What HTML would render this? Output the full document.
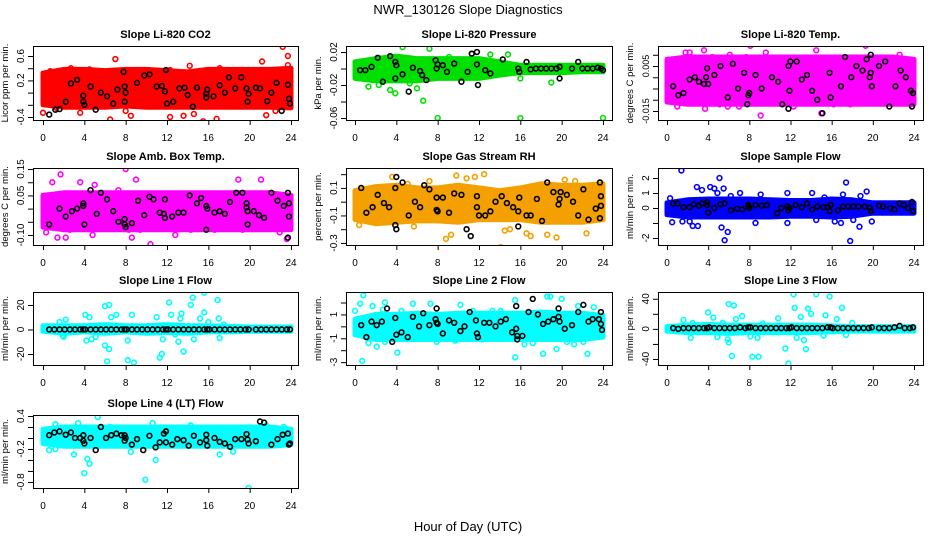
<!DOCTYPE html>
<html><head><meta charset="utf-8"><style>
html,body{margin:0;padding:0;background:#fff;}
svg{display:block;font-family:"Liberation Sans",sans-serif;}
</style></head><body>
<svg id="fig" width="936" height="540" viewBox="0 0 936 540">
<text x="468" y="14" text-anchor="middle" font-size="13">NWR_130126  Slope Diagnostics</text>
<text x="468" y="531" text-anchor="middle" font-size="13">Hour of Day (UTC)</text>
</svg>
<script>
// shared
const xTicks=[0,4,8,12,16,20,24];
const bandHours=[0,2,4,6,8,10,12,14,16,18,20,22,24];
const flatHours=[0.6,1.1,1.6,2.1,2.6,3.1,3.6,3.9,4.1,4.6,5.1,5.6,6.1,6.6,7.1,7.6,7.9,8.1,8.6,9.1,9.6,10.1,10.6,11.1,11.6,11.9,12.1,12.6,13.1,13.6,14.1,14.6,15.1,15.6,15.9,16.1,16.6,17.1,17.6,18.1,18.6,19.1,19.6,19.9,20.6,21.1,21.6,22.1,22.6,23.1,23.6,23.9];

// CO2
const co2Lo=[-0.2,-0.24,-0.24,-0.24,-0.22,-0.24,-0.24,-0.24,-0.24,-0.24,-0.24,-0.24,-0.25];
const co2Hi=[0.32,0.38,0.38,0.36,0.38,0.38,0.36,0.34,0.38,0.38,0.38,0.38,0.4];
const co2Out=[[0,-0.33],[0.7,0.35],[1.5,0.35],[2.7,0.4],[3.6,-0.33],[4.5,0.38],[6.5,-0.44],[7,0.55],[8,-0.3],[8.5,-0.38],[9.3,0.35],[10.5,0.35],[12.3,0.37],[12.3,-0.4],[13.6,-0.38],[14.2,0.44],[14.6,-0.35],[15.5,-0.47],[16.8,-0.43],[17.1,0.4],[21.2,0.51],[21.6,-0.37],[23.2,0.75],[23.7,0.6],[23.7,0.45],[22.5,-0.3],[1.3,-0.25]];
const co2Blk=[[0.6,-0.36],[1.2,-0.28],[1.6,-0.27],[2.2,-0.15],[2.7,0.15],[3.3,0.21],[3.9,-0.05],[4,-0.2],[3.9,-0.15],[4.6,0.1],[5.1,-0.28],[5.6,0],[6.2,-0.06],[6.8,-0.18],[7.2,0.05],[7.8,0.34],[7.9,-0.15],[7.9,0.1],[8,0],[9.1,0.16],[9.8,0.28],[10.3,0.3],[11,0.1],[11.5,0.11],[11.9,0.37],[11.8,0.02],[12,-0.18],[12.6,-0.15],[13.2,0.07],[13.7,0.08],[14,-0.04],[14.5,-0.23],[14.9,0.08],[15.8,-0.02],[15.8,-0.08],[15.9,0.05],[16.5,-0.06],[17.1,0.12],[17.6,0],[18,0.25],[18.6,0.07],[19.2,0.25],[19.7,0.07],[19.8,-0.15],[19.9,-0.02],[20.6,0.08],[21,0.07],[21.7,-0.14],[22.1,0],[22.6,0.16],[23.1,-0.3],[23.7,0.13],[23.8,-0.1],[23.9,-0.18]];

// Pressure
const prLo=[-0.012,-0.015,-0.015,-0.015,-0.012,-0.012,-0.012,-0.008,-0.005,-0.005,-0.005,-0.004,-0.004];
const prHi=[0.008,0.012,0.015,0.012,0.012,0.012,0.012,0.008,0.004,0.004,0.004,0.004,0.004];
const prOut=[[1.3,-0.022],[3.4,-0.026],[3.9,-0.03],[4.6,0.026],[5.3,-0.018],[6,-0.024],[6.6,-0.039],[7.2,0.024],[8,-0.06],[9.1,0.014],[11.3,0.018],[13.1,0.017],[14.8,0.017],[16,-0.06],[16,-0.012],[19,-0.017],[24,-0.06],[2.3,-0.02]];
const prBlk=[[0.5,-0.002],[1,-0.002],[1.6,0.002],[2.2,0.013],[2.7,-0.016],[3.4,0.015],[3.9,0.008],[3.9,-0.012],[4,0.004],[4.6,-0.007],[5.2,-0.028],[5.6,0.001],[6.3,-0.003],[6.5,-0.008],[6.9,-0.014],[7.8,0.01],[7.9,0],[8,0.005],[8.5,0.004],[8.9,-0.004],[9.6,0.006],[10.3,-0.016],[10.9,-0.004],[11.3,0.018],[11.8,0.02],[11.8,0.005],[11.9,-0.02],[12.6,-0.002],[13.1,-0.006],[14.3,0.011],[15.8,0],[15.9,-0.004],[16.6,0.008],[17,-0.001],[17.5,0],[18,0],[18.5,0],[19,0],[19.5,0],[19.8,-0.012],[19.8,0.002],[21,0],[21.6,0.008],[22,0],[22.5,0],[23,0],[23.5,0.001],[23.8,0],[24,-0.002]];

// Li-820 Temp
const tLo=[-0.011,-0.012,-0.012,-0.012,-0.012,-0.012,-0.012,-0.012,-0.012,-0.012,-0.012,-0.012,-0.012];
const tHi=[0.008,0.009,0.009,0.009,0.009,0.009,0.009,0.009,0.009,0.009,0.009,0.009,0.008];
const tOut=[[0.5,-0.01],[1,-0.013],[1.3,-0.011],[1.8,0.011],[2.2,0.011],[3.6,0.012],[3.7,-0.014],[4.4,0.009],[5.1,-0.012],[5.9,-0.013],[6.1,0.01],[7,-0.013],[7.7,0.009],[8.1,0.014],[9.1,-0.017],[9.6,0.011],[12.3,-0.013],[14.5,0.012],[15,-0.016],[16.2,-0.012],[17.8,-0.012],[19.3,0.014],[20,-0.009],[22.6,0.01],[23.7,-0.012]];
const tBlk=[[0.6,-0.004],[1.1,-0.008],[1.6,-0.007],[2.2,-0.001],[2.7,0],[3.1,-0.002],[3.6,-0.003],[3.9,0.004],[4,-0.003],[3.8,0],[4.6,0.001],[5.2,0.005],[5.9,-0.009],[6.4,0.006],[6.9,-0.005],[7.5,0.002],[7.8,-0.012],[7.9,-0.008],[8,-0.007],[8.6,0.001],[9.2,-0.005],[9.6,-0.027],[10.2,0],[10.8,-0.002],[11.2,-0.012],[11.8,-0.014],[11.9,-0.006],[11.8,0.005],[12,0.007],[12.6,0.007],[13.1,-0.001],[13.6,0.001],[14.1,-0.006],[14.6,-0.01],[15.1,-0.016],[15.8,0.002],[15.9,-0.009],[16.9,-0.004],[17.3,0.009],[17.9,0],[18.4,0.005],[19,0.003],[19.4,0.008],[19.7,0],[19.8,0.002],[19.9,-0.004],[19.8,0.01],[20.6,0.005],[21.2,0.007],[21.6,-0.013],[22.2,-0.004],[22.7,0.003],[23.2,0],[23.7,-0.006],[23.9,-0.007],[23.8,-0.013]];

// Amb Box Temp
const abLo=[-0.07,-0.08,-0.08,-0.08,-0.08,-0.08,-0.08,-0.08,-0.08,-0.08,-0.08,-0.08,-0.08];
const abHi=[0.05,0.06,0.06,0.06,0.06,0.06,0.06,0.06,0.06,0.06,0.06,0.06,0.05];
const abOut=[[0.1,-0.06],[0.3,-0.09],[0.9,0.1],[1.4,-0.11],[1.7,0.13],[2.2,-0.11],[2.6,-0.08],[3.6,0.1],[4.8,-0.1],[5,0.09],[7.3,0.07],[8,0.15],[8.3,-0.08],[8.6,-0.11],[9,0.11],[9.4,-0.08],[10.4,-0.135],[12.8,-0.1],[14.3,-0.08],[16.6,-0.08],[18.9,0.11],[19.3,-0.08],[21.1,0.11],[22.9,-0.09],[23.6,-0.115]];
const abBlk=[[0.6,-0.06],[1.6,0],[2.2,-0.03],[2.8,-0.01],[3.3,0],[3.9,0.02],[3.9,0.01],[4,-0.06],[4.6,0.07],[5.2,-0.02],[5.6,0.06],[6.2,0.035],[6.8,-0.01],[7.3,-0.05],[7.9,-0.04],[7.9,-0.06],[8,-0.07],[8.6,-0.055],[9.2,0.03],[9.8,-0.025],[10.3,0.045],[10.7,0.035],[11.3,-0.015],[11.8,0.035],[11.7,-0.02],[11.8,-0.035],[12.5,-0.03],[13.1,-0.015],[13.6,-0.015],[14.2,0.05],[14.9,0.02],[15.3,0.04],[15.8,0.01],[15.9,0],[15.8,-0.08],[16.6,-0.015],[17.1,-0.01],[17.6,-0.02],[18.1,0.025],[18.7,0.06],[19.3,0.06],[19.7,0.005],[19.8,-0.01],[19.8,-0.06],[19.7,0.02],[20.4,-0.01],[20.9,-0.025],[21.4,-0.035],[22.1,0.06],[22.7,0.03],[23.3,0.01],[23.7,0.06],[23.8,0.02],[23.8,-0.03],[23.7,-0.11]];

// Gas RH
const rhLo=[-0.13,-0.16,-0.15,-0.14,-0.14,-0.15,-0.13,-0.13,-0.13,-0.15,-0.15,-0.15,-0.13];
const rhHi=[0.08,0.11,0.12,0.1,0.1,0.12,0.1,0.08,0.1,0.13,0.12,0.12,0.13];
const rhOut=[[0.4,-0.17],[2.2,-0.15],[3.6,0.18],[5.1,0.13],[5.7,-0.18],[7.2,0.15],[8.8,-0.27],[9.3,-0.24],[9.8,0.19],[10.8,0.17],[11.6,0.18],[12.5,0.2],[14.1,-0.33],[14.5,-0.21],[15,-0.2],[16.6,-0.23],[17,-0.25],[18.6,-0.24],[19.5,-0.26],[20.3,0.16],[21.3,0.15],[22.4,-0.23]];
const rhBlk=[[0.6,0.1],[1.1,-0.08],[1.7,-0.04],[2.2,0.05],[2.8,-0.01],[3.3,-0.04],[3.9,0.1],[3.9,-0.17],[4,-0.2],[4,0.18],[4.6,0.14],[5.2,-0.1],[5.8,0],[6.3,-0.04],[6.7,0.12],[7.2,0.09],[7.9,0.03],[7.9,-0.06],[8,-0.07],[8.5,0.03],[9.1,-0.08],[9.6,0.06],[10.3,0.05],[10.8,-0.2],[11.2,-0.25],[11.8,0.04],[11.8,-0.04],[12,-0.1],[12.6,-0.1],[13.1,-0.07],[13.6,0],[14.2,0.04],[14.7,-0.01],[15.3,-0.04],[15.8,-0.07],[15.9,0.03],[15.8,-0.18],[16.6,-0.1],[17,-0.1],[17.6,0.02],[18.1,-0.14],[18.6,0.14],[19.2,0.07],[19.7,-0.02],[19.8,0.02],[19.9,0.07],[20.5,0.05],[21.1,0],[21.6,-0.1],[22.1,0.09],[22.6,-0.13],[23.3,-0.05],[23.7,0.14],[23.8,0.04],[23.8,-0.03],[23.7,-0.12]];

// Sample Flow
const sfLo=[-0.45,-0.6,-0.6,-0.6,-0.6,-0.6,-0.55,-0.55,-0.6,-0.55,-0.35,-0.35,-0.35];
const sfHi=[0.35,0.55,0.6,0.6,0.6,0.55,0.5,0.5,0.6,0.55,0.35,0.35,0.35];
const sfOut=[[0.3,0.65],[0.5,-0.95],[1.4,2.5],[1.5,-0.9],[2.2,-0.9],[2.5,-1.2],[2.9,1.4],[3,-1.2],[3.4,1.2],[4.2,1.4],[4.6,1.3],[4.9,1],[5.1,2],[5.3,-1.3],[5.5,1.3],[5.6,-2.15],[5.9,-1.6],[6.2,0.8],[7.1,1],[8.6,-1],[9.1,0.9],[11.7,1],[11.7,-1],[14.1,1],[14.5,-0.8],[15.3,0.7],[16.3,-0.9],[16.9,-1],[17.4,1.7],[17.1,0.9],[17.8,-2.2],[18.1,-0.8],[18.7,-1.25],[19.4,1.1],[19.9,-0.9],[18.8,0.8]];
const sfBlk=[[0.6,0.3],[1,0.3],[1.6,0.05],[2.2,0.05],[2.6,0.25],[3.1,0.15],[3.4,0.3],[3.9,0.2],[3.9,0.4],[4,-0.3],[4.6,0],[5.2,0.25],[5.6,0.3],[6.2,-0.15],[6.8,-0.05],[7.3,-0.1],[7.9,0.1],[7.9,0.2],[8,0],[8.6,0.2],[9.2,0.15],[9.7,0.2],[10.7,-0.35],[11.1,0],[11.7,0.1],[11.8,-0.15],[11.9,0],[12.5,0.2],[13.1,0.05],[13.6,0.3],[14.1,-0.1],[14.6,0.1],[15.2,0.05],[15.6,0.05],[15.8,-0.2],[15.9,0.2],[16.6,-0.15],[17.1,0.1],[17.6,0.1],[18.1,0.1],[18.6,0.1],[19.2,0.1],[19.7,0],[19.8,-0.2],[20.6,0.15],[21,0.1],[21.7,0],[22.1,-0.1],[22.6,0.3],[23,0.2],[23.4,0],[23.8,0.4],[23.9,-0.2]];

// Line 1 Flow
const l1Lo=[-1.5,-3,-2,-3,-2,-3,-2.5,-3,-2,-2,-1.5,-1.5,-1.5];
const l1Hi=[3,3,3,4,3,3,4,3,3,2.5,2,2,2];
const l1Out=[[1.6,6],[1.9,-5],[2.2,8],[2,-6],[4.1,12],[4.2,-9],[4.5,10],[4.7,-8],[5.1,-6],[6,19],[6.4,20],[6,-13],[6.2,-26],[6.4,-16],[6.6,10],[7.1,12],[8.2,-9],[8.2,-25],[8.6,12],[8.8,-27],[11,10],[11.3,-23],[11.5,-20],[11.6,-8],[12.2,22],[12.4,12],[12.8,-4],[13.3,9],[13.1,-10],[13.4,13],[13.6,-18],[14.3,20],[14.5,26],[14.6,-8],[15.2,9],[15.6,30],[15.6,14],[16,6],[16.9,24],[17,9],[17.1,-7],[17.5,4]];
const l1Blk=[0,0,0,0,0,0,0,0,0,0,0,0,0,0,0,0,0,0,0,0,0,0,0,0,0,0,0,0,0,0,0,0,0,0,0,0,0,0,0,0,0,0,0,0,0,0,0,0,0,0,0,0];

// Line 2 Flow
const l2Lo=[-0.7,-1.1,-1.1,-1.1,-1.1,-1.1,-1.1,-1.1,-1.1,-1.1,-1.1,-1.1,-0.9];
const l2Hi=[0.6,1,1,1.1,1,1.1,1.1,1.1,1.1,1.2,1.1,1.1,0.9];
const l2Out=[[0,1.3],[0.2,-0.5],[0.5,1.9],[0.7,-2.9],[0.8,2.6],[1.3,-1.4],[1.7,1.7],[2.1,-1.7],[2.7,1.4],[2.9,2],[2.9,-1.3],[4.1,-2.2],[4.5,1.3],[5.6,1.9],[6.7,-0.8],[7.3,1.9],[7.9,-1.3],[9.7,-1.2],[10.2,1.8],[11.4,1.3],[12.3,-1.1],[13.3,1.3],[14.1,1.3],[15.5,2.2],[15.5,-2.6],[16.4,-1.5],[17.2,-1.4],[18.2,-2.3],[18.6,2.5],[18.9,2.5],[19.5,-1.9],[20,2.3],[20.5,-1.3],[21.2,-1.5],[21.6,1.7],[22.5,-2.3],[22.1,-1.3],[23.1,1.6],[23.7,-0.8]];
const l2Blk=[[0.6,0.1],[1.1,-0.9],[1.6,0.4],[2.1,0.1],[2.6,0.4],[3.1,1.5],[3.6,-1.3],[3.9,0.7],[4,-0.7],[4.5,-0.5],[5.1,-0.9],[5.6,0.8],[6.2,0],[6.6,1.1],[7.2,0.1],[7.8,0.6],[7.9,1.5],[7.9,0.3],[8,0.2],[8.5,-0.6],[9.1,0.5],[9.6,0.3],[10.2,-0.4],[10.6,0],[11.1,1.2],[11.7,0.5],[11.8,-0.6],[11.9,-0.9],[12.5,0.3],[13,0.3],[13.6,0],[14.1,0.4],[14.6,0.6],[15.2,-0.5],[15.6,1.7],[15.6,-0.2],[15.7,-0.8],[15.7,-1.1],[16.2,-0.8],[16.8,1.2],[17.2,2.3],[17.7,1],[18.2,0.2],[18.7,0.4],[19.2,0.6],[19.7,1.5],[19.7,0.8],[19.8,0.4],[20.3,-0.2],[21,0.1],[21.6,1.2],[22.1,1.8],[22.6,0.4],[23,0.6],[23.6,0.6],[23.8,1.2],[23.8,0.2],[23.9,-0.3]];

// Line 3 Flow
const l3Lo=[-3,-5,-5,-6,-5,-5,-5,-5,-4,-3,-3,-3,-3];
const l3Hi=[3,5,6,5,5,5,5,5,4,3,3,3,3];
const l3Out=[[1.6,12],[2.3,-12],[2.5,8],[4,22],[4.5,15],[4.9,-11],[5.4,8],[5.9,-14],[6,-18],[6,33],[6.3,-36],[6.5,31],[6.7,13],[7.3,17],[8.1,-10],[8.3,-37],[8.9,-37],[8.8,-12],[9.3,7],[10.8,14],[11.5,-26],[11.8,-46],[12.3,46],[12.4,28],[12.6,-12],[13,16],[13.3,-15],[13.5,-27],[13.7,27],[14,20],[14.5,46],[15.2,-9],[15.4,18],[15.8,43],[16.5,13],[17,28],[17.4,-8],[18,8]];
const l3Blk=[1,0,1,1,1,1,1,1,2,1,1,1,1,1,2,1,2,2,1,1,1,1,1,1,1,1,2,1,1,1,1,1,1,2,2,1,1,1,1,1,1,1,1,2,1,1,1,2,4,1,1,2];

// Line 4 (LT) Flow
const l4Lo=[-0.1,-0.15,-0.15,-0.15,-0.15,-0.15,-0.15,-0.15,-0.15,-0.15,-0.15,-0.15,-0.12];
const l4Hi=[0.16,0.2,0.2,0.2,0.2,0.2,0.2,0.2,0.2,0.2,0.2,0.2,0.16];
const l4Out=[[0.6,-0.22],[1.2,-0.2],[3.4,0.27],[4,-0.64],[4.3,-0.38],[4.5,-0.47],[5.3,0.38],[6.5,0.2],[8.5,-0.25],[9.9,-0.76],[10.6,0.27],[10.9,-0.4],[14.3,0.23],[17.1,-0.3],[18.4,-0.25],[19.9,-0.91],[21.6,0.23],[23.3,0.2],[3,-0.3],[1.2,0.25]];
const l4Blk=[[0.6,0.05],[1.1,0.1],[1.6,0.12],[2.2,0.06],[2.7,0.1],[3.1,0],[3.6,0],[3.9,0.05],[3.9,-0.05],[4,-0.1],[4.6,0],[5.1,-0.22],[5.6,0.2],[6.1,0],[6.6,0.05],[7.1,0.08],[7.6,0.05],[7.9,0.05],[7.9,-0.05],[8,0],[8.6,-0.12],[9.1,-0.02],[9.7,-0.22],[10.3,0.04],[10.9,-0.17],[11.3,-0.08],[11.7,0.08],[11.9,0.12],[11.9,-0.08],[12.5,-0.12],[13,-0.02],[13.6,-0.04],[14.1,-0.14],[14.6,0.04],[15.2,-0.08],[15.8,0.06],[15.8,-0.04],[15.9,-0.14],[16.6,0],[17.1,-0.07],[17.6,-0.1],[18.1,-0.16],[18.6,-0.02],[19.2,-0.02],[19.7,0.07],[19.8,-0.03],[19.9,-0.1],[20.6,-0.06],[21,0.3],[21.4,0.28],[22.1,-0.12],[22.7,-0.02],[23.2,0.06],[23.7,0.08],[23.8,-0.12],[23.9,-0.1]];

function zip(h,v){return h.map((x,i)=>[x,v[i]]);}

const NS='http://www.w3.org/2000/svg';
const svg=document.getElementById('fig');
function mk(tag,attrs,parent){const e=document.createElementNS(NS,tag);for(const k in attrs)e.setAttribute(k,attrs[k]);(parent||svg).appendChild(e);return e;}

const colBox=[[33,298,43,291],[346,612,355,603],[658,923,667,914]];
const rowBox=[[46,120],[168,245],[292,365],[415,488]];

const panels=[
 {id:'co2',title:'Slope Li-820 CO2',ylab:'Licor ppm per min.',c:0,r:0,yl:[0.764,-0.449],ticks:[-0.4,-0.2,0,0.2,0.4,0.6],labs:['-0.4','','','0.2','','0.6'],col:'#ff0000',lo:co2Lo,hi:co2Hi,out:co2Out,blk:co2Blk,fs:10},
 {id:'pressure',title:'Slope Li-820 Pressure',ylab:'kPa per min.',c:1,r:0,yl:[0.0273,-0.0624],ticks:[-0.06,-0.04,-0.02,0,0.02],labs:['-0.06','','-0.02','','0.02'],col:'#00e000',lo:prLo,hi:prHi,out:prOut,blk:prBlk,fs:10},
 {id:'li820-temp',title:'Slope Li-820 Temp.',ylab:'degrees C per min.',c:2,r:0,yl:[0.0139,-0.019],ticks:[-0.015,-0.01,-0.005,0,0.005,0.01],labs:['-0.015','','','','0.005',''],col:'#ff00ff',lo:tLo,hi:tHi,out:tOut,blk:tBlk,fs:9},
 {id:'amb-box-temp',title:'Slope Amb. Box Temp.',ylab:'degrees C per min.',c:0,r:1,yl:[0.154,-0.138],ticks:[-0.1,-0.05,0,0.05,0.1,0.15],labs:['-0.10','','','0.05','','0.15'],col:'#ff00ff',lo:abLo,hi:abHi,out:abOut,blk:abBlk,fs:10},
 {id:'gas-stream-rh',title:'Slope Gas Stream RH',ylab:'percent per min.',c:1,r:1,yl:[0.245,-0.315],ticks:[-0.3,-0.2,-0.1,0,0.1,0.2],labs:['-0.3','','-0.1','','0.1',''],col:'#f4a000',lo:rhLo,hi:rhHi,out:rhOut,blk:rhBlk,fs:10},
 {id:'sample-flow',title:'Slope Sample Flow',ylab:'ml/min per min.',c:2,r:1,yl:[2.67,-2.47],ticks:[-2,-1,0,1,2],labs:['-2','','0','1','2'],col:'#0000ff',lo:sfLo,hi:sfHi,out:sfOut,blk:sfBlk,fs:10},
 {id:'line1-flow',title:'Slope Line 1 Flow',ylab:'ml/min per min.',c:0,r:2,yl:[30.6,-29],ticks:[-20,0,20],labs:['-20','0','20'],col:'#00ffff',lo:l1Lo,hi:l1Hi,out:l1Out,blk:zip(flatHours,l1Blk),fs:10},
 {id:'line2-flow',title:'Slope Line 2 Flow',ylab:'ml/min per min.',c:1,r:2,yl:[2.88,-3.24],ticks:[-3,-2,-1,0,1,2],labs:['-3','','-1','','1',''],col:'#00ffff',lo:l2Lo,hi:l2Hi,out:l2Out,blk:l2Blk,fs:10},
 {id:'line3-flow',title:'Slope Line 3 Flow',ylab:'ml/min per min.',c:2,r:2,yl:[49,-48],ticks:[-40,-20,0,20,40],labs:['-40','','0','','40'],col:'#00ffff',lo:l3Lo,hi:l3Hi,out:l3Out,blk:zip(flatHours,l3Blk),fs:10},
 {id:'line4-flow',title:'Slope Line 4 (LT) Flow',ylab:'ml/min per min.',c:0,r:3,yl:[0.418,-0.91],ticks:[-0.8,-0.6,-0.4,-0.2,0,0.2,0.4],labs:['-0.8','','','-0.2','','','0.4'],col:'#00ffff',lo:l4Lo,hi:l4Hi,out:l4Out,blk:l4Blk,fs:10}
];

panels.forEach(p=>{
 const [bx0,bx1,x0,x24]=colBox[p.c];const [by0,by1]=rowBox[p.r];
 const X=h=>x0+(x24-x0)*h/24;
 const Y=v=>by0+(by1-by0)*(p.yl[0]-v)/(p.yl[0]-p.yl[1]);
 const g=mk('g',{});
 
 
 const t=mk('text',{x:(bx0+bx1)/2,y:by0-8,'text-anchor':'middle','font-size':'11','font-weight':'bold'},g);
 t.textContent=p.title;
 
 
 const cy=(by0+by1)/2, yx=bx0-25;
 const yt=mk('text',{x:yx,y:cy,'text-anchor':'middle','font-size':'9.5',transform:`rotate(-90 ${yx} ${cy})`},g);
 yt.textContent=p.ylab;
 
 
 const cl=mk('clipPath',{id:'clip-'+p.id},g);
 mk('rect',{x:bx0,y:by0,width:bx1-bx0,height:by1-by0},cl);
 const pg=mk('g',{'clip-path':`url(#clip-${p.id})`},g);
 let d='';
 bandHours.forEach((h,i)=>{d+=(i?'L':'M')+X(h).toFixed(1)+','+Y(p.hi[i]).toFixed(1);});
 for(let i=bandHours.length-1;i>=0;i--)d+='L'+X(bandHours[i]).toFixed(1)+','+Y(p.lo[i]).toFixed(1);
 const band=mk('path',{d:d+'Z',fill:p.col,stroke:p.col,'stroke-width':'5','stroke-linejoin':'round'},pg);
 
 
 p.out.forEach(([h,v])=>{
  const c=mk('circle',{cx:X(h),cy:Y(v),r:2.4,fill:'none',stroke:p.col,'stroke-width':'1.6'},pg);
  
  
 });
 p.blk.forEach(([h,v])=>{
  const c=mk('circle',{cx:X(h),cy:Y(v),r:2.4,fill:'none',stroke:'#000','stroke-width':'1.6'},pg);
  
  
 });
 const box=mk('rect',{x:bx0+0.5,y:by0+0.5,width:bx1-bx0,height:by1-by0,fill:'none',stroke:'#000','stroke-width':'1'},g);
 
 
 mk('line',{x1:X(0),x2:X(24),y1:by1+0.5,y2:by1+0.5,stroke:'#000'},g);
 xTicks.forEach(h=>{
  mk('line',{x1:X(h)+0.5,x2:X(h)+0.5,y1:by1,y2:by1+5,stroke:'#000'},g);
  const l=mk('text',{x:X(h),y:by1+21,'text-anchor':'middle','font-size':'10'},g);
  l.textContent=h;
  
  
 });
 const ty=p.ticks.map(Y);
 mk('line',{x1:bx0+0.5,x2:bx0+0.5,y1:Math.min(...ty),y2:Math.max(...ty),stroke:'#000'},g);
 p.ticks.forEach((v,i)=>{
  const y=Y(v);
  mk('line',{x1:bx0-5,x2:bx0,y1:y+0.5,y2:y+0.5,stroke:'#000'},g);
  if(p.labs[i]){
   const lx=bx0-9;
   const l=mk('text',{x:lx,y:y,'text-anchor':'middle','font-size':p.fs,transform:`rotate(-90 ${lx} ${y})`},g);
   l.textContent=p.labs[i];
   
   
  }
 });
});
</script>
</body></html>
